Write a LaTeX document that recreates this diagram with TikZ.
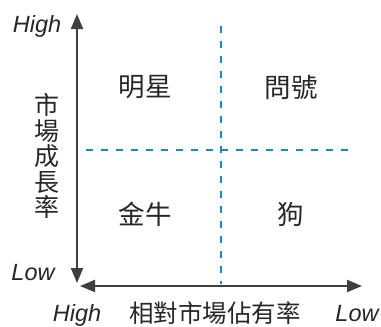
\documentclass[tikz,border=0pt]{standalone}
\usepackage{fontspec}
\setmainfont{Liberation Sans}
\newfontfamily\cjk{Noto Sans CJK TC}
\usetikzlibrary{arrows.meta}
\definecolor{axisgray}{HTML}{3F3F3F}
\definecolor{dashblue}{HTML}{1B87C8}
\definecolor{txt}{HTML}{262626}
\begin{document}
\begin{tikzpicture}[x=1pt,y=-1pt,
  axisline/.style={draw=axisgray,line width=2pt,-{Triangle[length=15pt,width=12pt]}},
  divider/.style={draw=dashblue,line width=2pt,dash pattern=on 7pt off 8pt},
  quad/.style={font=\cjk\fontsize{26.5}{26.5}\selectfont,text=txt,inner sep=0pt},
  axislab/.style={font=\cjk\fontsize{24.5}{24.5}\selectfont,text=txt,inner sep=0pt},
  endlab/.style={font=\itshape\fontsize{23.5}{23.5}\selectfont,text=txt,inner sep=0pt,anchor=base}]
\useasboundingbox (0,0) rectangle (381,327);
% axes
\coordinate (o1) at (77,150);
\coordinate (ytop) at (77,14);
\coordinate (ybot) at (77,283);
\coordinate (o2) at (220,286);
\coordinate (xleft) at (80,286);
\coordinate (xright) at (362,286);
\draw[axisline] (o1) -- (ytop);
\draw[axisline] (o1) -- (ybot);
\draw[axisline] (o2) -- (xleft);
\draw[axisline] (o2) -- (xright);
% dividers
\coordinate (vtop) at (221,26);
\coordinate (vbot) at (221,284);
\coordinate (hl) at (86,150);
\coordinate (hr) at (354,150);
\draw[divider] (vtop) -- (vbot);
\draw[divider] (hl) -- (hr);
% quadrant labels
\node[quad] (star) at (145,87) {明星};
\node[quad] (quest) at (291,87) {問號};
\node[quad] (cow) at (145,214) {金牛};
\node[quad] (dog) at (291,214) {狗};
% axis labels
\node[endlab] (yhigh) at (37,32) {High};
\node[endlab] (ylow) at (33,280) {Low};
\node[endlab] (xhigh) at (77,321) {High};
\node[endlab] (xlow) at (357,321) {Low};
\node[axislab] (xlab) at (215,313.5) {相對市場佔有率};
\node[axislab,align=center,font=\cjk\fontsize{25}{25.5}\selectfont] (ylab) at (47,156) {市\\場\\成\\長\\率};
\end{tikzpicture}
\end{document}
